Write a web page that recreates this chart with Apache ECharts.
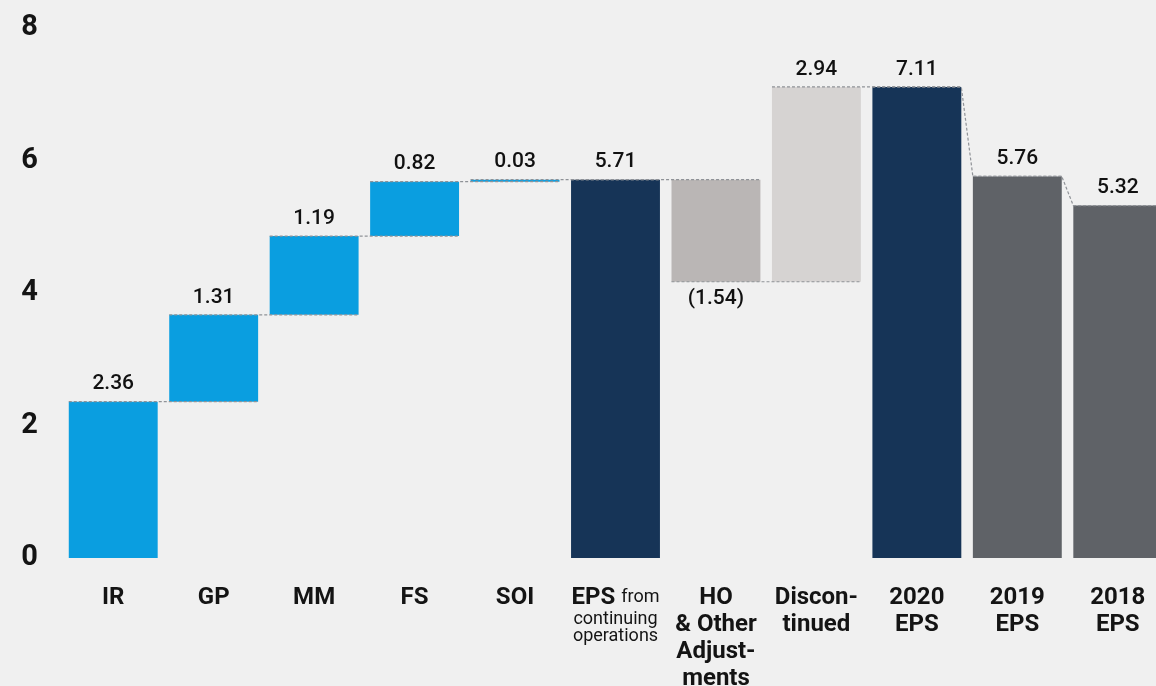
<!DOCTYPE html>
<html>
<head>
<meta charset="utf-8">
<script src="https://cdn.jsdelivr.net/npm/echarts@6/dist/echarts.min.js"></script>
<style>
  html, body { margin: 0; padding: 0; background: #f0f0f0; overflow: hidden; }
  #chart { width: 1156px; height: 686px; }
</style>
</head>
<body>
<div id="chart"></div>
<script>
  const categories = [
    'IR', 'GP', 'MM', 'FS', 'SOI',
    'EPS from continuing operations',
    'HO & Other Adjustments',
    'Discontinued',
    '2020 EPS', '2019 EPS', '2018 EPS',
  ];
  const axisLabels = [
    'IR', 'GP', 'MM', 'FS', 'SOI',
    '{b|EPS} {s|from}\n{s|continuing}\n{s|operations}',
    'HO\n& Other\nAdjust-\nments',
    'Discon-\ntinued',
    '2020\nEPS', '2019\nEPS', '2018\nEPS',
  ];
  // 'delta' steps stack on the running total, 'total' bars start at zero
  const kinds = ['delta', 'delta', 'delta', 'delta', 'delta', 'total', 'delta', 'delta', 'total', 'total', 'total'];
  const values = [2.36, 1.31, 1.19, 0.82, 0.03, 5.71, -1.54, 2.94, 7.11, 5.76, 5.32];
  const colors = ['#0a9ee0', '#0a9ee0', '#0a9ee0', '#0a9ee0', '#0a9ee0', '#163457', '#bab6b5', '#d6d3d2', '#163457', '#5f6267', '#5f6267'];
  const yTicks = [0, 2, 4, 6, 8];

  const FONT = 'Roboto, "Liberation Sans", sans-serif';

  // work out the waterfall bases and the levels the connectors run at
  const bases = [];
  const startLevel = [];
  const endLevel = [];
  let run = 0;
  values.forEach((v, i) => {
    if (kinds[i] === 'total') {
      bases.push(0);
      startLevel.push(v);
      run = v;
    } else {
      bases.push(Math.min(run, run + v));
      startLevel.push(run);
      run = +(run + v).toFixed(2);
    }
    endLevel.push(run);
  });

  const connectors = [];
  for (let i = 0; i < values.length - 1; i++) {
    connectors.push([i, endLevel[i], startLevel[i + 1]]);
  }

  const fmt = (v) => (v < 0 ? '(' + Math.abs(v).toFixed(2) + ')' : v.toFixed(2));

  const chart = echarts.init(document.getElementById('chart'));

  const BAR_RATIO = 0.885;

  chart.setOption({
    backgroundColor: '#f0f0f0',
    animation: false,
    grid: {
      left: 63,
      top: 28,
      width: 1105,
      bottom: 128,
      containLabel: false,
      outerBoundsMode: 'none',
    },
    xAxis: {
      type: 'category',
      data: categories,
      axisLine: { show: false },
      axisTick: { show: false },
      axisLabel: {
        interval: 0,
        margin: 26,
        color: '#141414',
        fontFamily: FONT,
        fontSize: 24,
        fontWeight: 'bold',
        lineHeight: 27,
        formatter: (val, idx) => axisLabels[idx],
        rich: {
          b: { fontFamily: FONT, fontSize: 24, fontWeight: 'bold', color: '#141414', lineHeight: 20 },
          s: { fontFamily: FONT, fontSize: 18, fontWeight: 'normal', color: '#141414', lineHeight: 17 },
        },
      },
    },
    yAxis: {
      type: 'value',
      min: 0,
      max: 8,
      interval: 2,
      axisLine: { show: false },
      axisTick: { show: false },
      splitLine: { show: false },
      axisLabel: {
        margin: 25,
        color: '#141414',
        fontFamily: FONT,
        fontSize: 29,
        fontWeight: 'bold',
        formatter: (v) => (yTicks.includes(v) ? String(v) : ''),
      },
    },
    series: [
      {
        name: 'base',
        type: 'bar',
        stack: 'wf',
        barWidth: (BAR_RATIO * 100) + '%',
        itemStyle: { color: 'transparent' },
        silent: true,
        data: bases,
      },
      {
        name: 'value',
        type: 'bar',
        stack: 'wf',
        barWidth: (BAR_RATIO * 100) + '%',
        data: values.map((v, i) => ({
          value: Math.abs(v),
          itemStyle: { color: colors[i] },
          label: {
            show: true,
            position: v < 0 ? 'bottom' : 'top',
            distance: 7,
            formatter: () => fmt(v),
            color: '#111111',
            fontFamily: FONT,
            fontSize: 21,
            fontWeight: 500,
          },
        })),
        z: 2,
      },
      {
        name: 'connectors',
        type: 'custom',
        z: 5,
        silent: true,
        data: connectors,
        renderItem: (params, api) => {
          const i = api.value(0);
          const p0 = api.coord([i, api.value(1)]);
          const p1 = api.coord([i + 1, api.value(2)]);
          const hw = api.size([1, 0])[0] * BAR_RATIO / 2;
          return {
            type: 'polyline',
            shape: {
              points: [
                [p0[0] - hw, p0[1]],
                [p0[0] + hw, p0[1]],
                [p1[0] - hw, p1[1]],
                [p1[0] + hw, p1[1]],
              ],
            },
            style: { fill: null, stroke: '#8f9297', lineWidth: 1.2, lineDash: [3, 2] },
          };
        },
      },
    ],
  });
</script>
</body>
</html>
